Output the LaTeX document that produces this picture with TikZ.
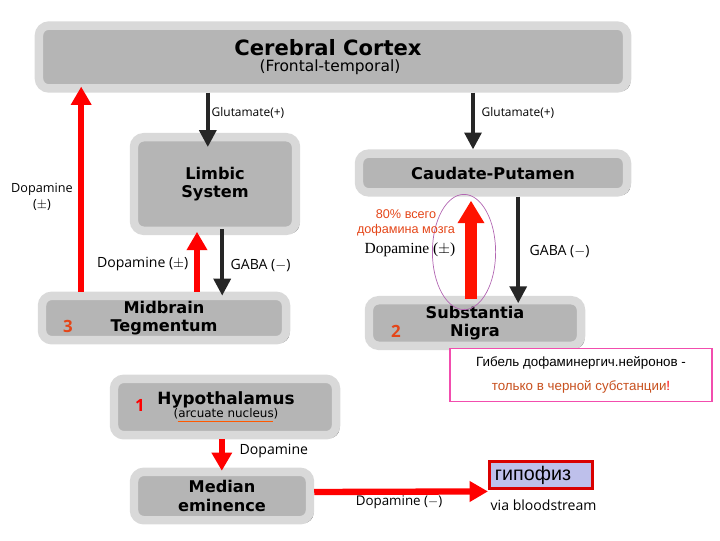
\documentclass[tikz,border=0pt]{standalone}
\usepackage{fontspec}
\setmainfont{Liberation Sans}
\setsansfont{Open Sans}
\newfontfamily\timesface{Liberation Serif}
\newfontfamily\boxface{DejaVu Sans}
\usetikzlibrary{positioning}
\usetikzlibrary{calc}
\usetikzlibrary{shadows}
\usetikzlibrary{arrows.meta}
\usetikzlibrary{shapes.geometric}
\definecolor{rust}{RGB}{200,80,30}
\definecolor{flame}{RGB}{228,70,25}
\definecolor{lilac}{RGB}{190,192,235}
\tikzset{
  box/.style      = { rectangle, rounded corners=7pt, align=center },
  region/.style   = { box, fill=black!29, draw=black!15, line width=6pt,
                      font=\boxface\bfseries\fontsize{11.5}{13}\selectfont,
                      drop shadow={shadow xshift=2.5pt, shadow yshift=-2pt, fill=black!55, opacity=1} },
  tag/.style      = { font=\sffamily\fontsize{10}{11}\selectfont, inner sep=1pt },
  number/.style   = { font=\sffamily\bfseries\fontsize{12}{12}\selectfont, text=flame },
  note/.style     = { font=\fontsize{9}{11}\selectfont, text=flame },
  signal/.style   = { -{Triangle[width=12pt,length=12pt]}, line width=2.6pt, black!85 },
  dopa/.style     = { -{Triangle[width=14pt,length=13pt]}, line width=4.5pt, red }
}
\begin{document}
\begin{tikzpicture}[x=0.025cm,y=-0.025cm]
  \useasboundingbox (0,0) rectangle (720,540);

  \node (cortex)   [region,minimum width=14.7cm,minimum height=1.57cm] at (333,57)  {};
  \node (cortext)  [font=\boxface\bfseries\fontsize{15}{16}\selectfont] at (328,48) {Cerebral Cortex};
  \node (cortsub)  [font=\boxface\fontsize{11}{12}\selectfont] at (330,67) {(Frontal-temporal)};

  \node (limbic)   [region,minimum width=4.05cm,minimum height=2.34cm] at (215,184) {Limbic\\System};
  \node (caudate)  [region,minimum width=6.7cm,minimum height=0.97cm]  at (493,173) {Caudate-Putamen};
  \node (midbrain) [region,minimum width=6.1cm,minimum height=1.11cm]  at (164,318) {Midbrain\\Tegmentum};
  \node (nigra)    [region,minimum width=5.3cm,minimum height=1.14cm]  at (475,323) {Substantia\\Nigra};
  \node (hypo)     [region,minimum width=5.55cm,minimum height=1.41cm] at (225,407) {};
  \node (hypotext) [font=\boxface\bfseries\fontsize{12}{12}\selectfont] at (226,400) {Hypothalamus};
  \node (hyposub)  [font=\boxface\fontsize{8.5}{9}\selectfont,inner sep=1pt] at (226,414) {(arcuate nucleus)};
  \node (median)   [region,minimum width=4.4cm,minimum height=1.21cm]  at (222,496) {Median\\eminence};

  \node (three) [number] at (68,326)  {3};
  \node (two)   [number] at (396,331) {2};
  \node (one)   [number,text=red] at (140,405) {1};

  % pink remark box
  \node (death) [box,rounded corners=0pt,draw=magenta!70,line width=1pt,fill=white,
                 minimum width=6.55cm,minimum height=1.32cm,font=\fontsize{9.5}{17.5}\selectfont]
        at (581,375) {Гибель дофаминергич.нейронов -\\
                      \textcolor{rust}{только в черной субстанции}\textcolor{red}{!}};

  \node (pit) [box,rounded corners=0pt,draw=red!85!black,line width=2pt,fill=lilac,
               text width=2.3cm,align=left,inner xsep=4pt,minimum height=0.62cm,
               font=\fontsize{14}{15}\selectfont] at (541,475) {гипофиз};
  \node (blood) [tag,anchor=west] at (489,505) {via bloodstream};

  % connectors
  \draw [dopa]   ([xshift=-2.07cm]midbrain.north) -- ([xshift=-2.07cm,yshift=0.15cm]midbrain.north |- cortex.south);
  \draw [signal] ([xshift=-0.18cm]limbic.north |- cortex.south) -- ([xshift=-0.18cm,yshift=-0.35cm]limbic.north);
  \draw [signal] ([xshift=-0.5cm]caudate.north |- cortex.south) -- ([xshift=-0.5cm]caudate.north);
  \draw [dopa]   ([xshift=-0.45cm]limbic.south |- midbrain.north) -- ([xshift=-0.45cm,yshift=0.08cm]limbic.south);
  \draw [signal] ([xshift=0.18cm,yshift=0.15cm]limbic.south) -- ([xshift=0.18cm,yshift=-0.1cm]limbic.south |- midbrain.north);
  \draw [dopa,line width=8.5pt,-{Triangle[width=18pt,length=16pt]},red!85!orange]
                 ([xshift=-0.1cm,yshift=-0.08cm]nigra.north) -- ([xshift=-0.1cm,yshift=-0.1cm]nigra.north |- caudate.south);
  \draw [signal] ([xshift=0.63cm]caudate.south) -- ([xshift=0.63cm,yshift=-0.18cm]caudate.south |- nigra.north);
  \draw [dopa]   ([xshift=-0.08cm]hypo.south) -- ([xshift=-0.08cm,yshift=-0.08cm]hypo.south |- median.north);
  \draw [dopa]   ([yshift=0.1cm]median.east) -- ([yshift=-0.41cm]pit.west);
  \draw [orange!70!red,line width=0.7pt] ([xshift=4pt]hyposub.south west) -- ([xshift=-5pt]hyposub.south east);

  \node (ring) [ellipse,draw=violet!60,line width=0.5pt,minimum width=1.58cm,minimum height=2.88cm] at (464,252) {};

  % labels
  \node (glut1)  [tag,anchor=west,font=\sffamily\fontsize{8.5}{9}\selectfont] at (210,113) {Glutamate(+)};
  \node (glut2)  [tag,anchor=west,font=\sffamily\fontsize{8.5}{9}\selectfont] at (480,113) {Glutamate(+)};
  \node (dopa3)  [tag,align=center,font=\sffamily\fontsize{9}{11}\selectfont] at (42,197)  {Dopamine\\($\pm$)};
  \node (dopa1)  [tag,anchor=east] at (190,264) {Dopamine ($\pm$)};
  \node (gaba1)  [tag,anchor=west] at (229,266) {GABA ($-$)};
  \node (dopa2)  [tag,font=\timesface\fontsize{11}{12}\selectfont] at (410,250) {Dopamine ($\pm$)};
  \node (share)  [note,align=center] at (406,223) {80\% всего\\дофамина мозга};
  \node (gaba2)  [tag,anchor=west] at (528,252) {GABA ($-$)};
  \node (dopa4)  [tag,anchor=west] at (238,451) {Dopamine};
  \node (dopa5)  [tag,font=\sffamily\fontsize{9.5}{10}\selectfont] at (399,502) {Dopamine ($-$)};
\end{tikzpicture}
\end{document}
